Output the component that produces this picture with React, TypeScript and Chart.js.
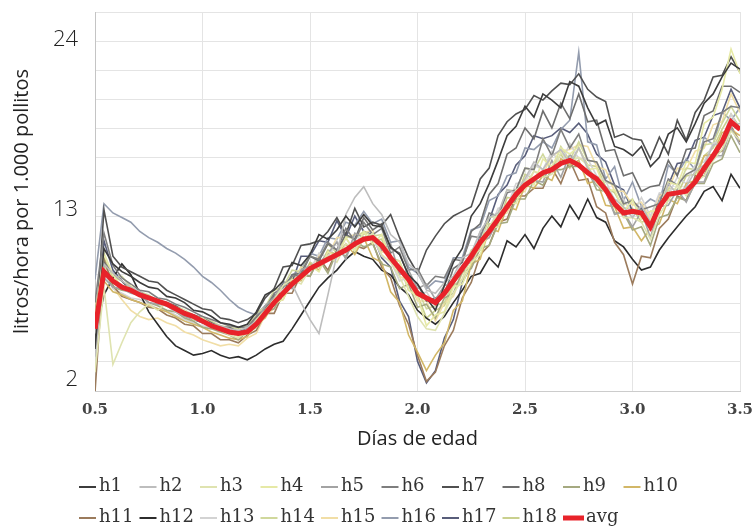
import React, { useEffect, useRef } from 'react';
import { Chart, registerables } from 'chart.js';

Chart.register(...registerables);

// Hours of age (x), shown on the axis as days
const HOURS = [12, 13, 14, 15, 16, 17, 18, 19, 20, 21, 22, 23, 24, 25, 26, 27, 28, 29, 30, 31, 32, 33, 34, 35, 36,
  37, 38, 39, 40, 41, 42, 43, 44, 45, 46, 47, 48, 49, 50, 51, 52, 53, 54, 55, 56, 57, 58, 59, 60, 61, 62, 63, 64,
  65, 66, 67, 68, 69, 70, 71, 72, 73, 74, 75, 76, 77, 78, 79, 80, 81, 82, 83, 84];
const X_TICK_LABELS = ['0.5', '1.0', '1.5', '2.0', '2.5', '3.0', '3.5'];
const Y_TICK_LABELS = [2, 13, 24];
const SERIES_NAMES = ['h1', 'h2', 'h3', 'h4', 'h5', 'h6', 'h7', 'h8', 'h9', 'h10', 'h11', 'h12', 'h13', 'h14', 'h15', 'h16', 'h17', 'h18'];
const SERIES_COLORS = ['#3c3c3c', '#bdbdbd', '#dfe3b0', '#e6e9a6', '#a3a3a3', '#7e7e7e', '#505050', '#6e6e6e', '#a5a980',
  '#d2b767', '#9b7b5c', '#2c2c2c', '#d3d3d3', '#d0d89c', '#f1dea6', '#939cae', '#585d7a', '#c9d08e'];
const AVG_COLOR = '#e8232a';

const h1 = [4.0, 10.5, 9.5, 9.0, 8.7, 8.3, 8.0, 7.9, 7.4, 7.3,
  7.0, 6.5, 6.4, 6.1, 5.7, 5.6, 5.4, 5.6, 6.4, 7.5,
  7.8, 8.4, 9.6, 9.4, 10.1, 11.4, 11.1, 11.7, 12.6, 11.9,
  12.7, 12.0, 11.9, 10.6, 10.1, 8.8, 8.2, 7.3, 6.5, 8.1,
  9.6, 10.5, 12.6, 13.4, 14.7, 16.2, 17.8, 18.4, 19.7, 19.0,
  20.5, 20.1, 19.6, 21.3, 21.0, 19.6, 18.5, 18.8, 17.1, 16.9,
  16.5, 17.1, 15.8, 16.4, 17.9, 18.3, 17.4, 18.6, 19.9, 20.5,
  21.6, 22.5, 22.1];
const h2 = [3.5, 9.5, 8.9, 8.4, 8.0, 7.7, 7.3, 7.0, 6.8, 6.4,
  6.2, 6.0, 5.7, 5.6, 5.5, 5.3, 5.2, 5.4, 5.8, 6.3,
  6.9, 7.6, 8.2, 7.0, 5.9, 5.0, 7.5, 10.1, 12.7, 13.8,
  14.5, 13.4, 12.7, 11.4, 10.9, 9.5, 9.0, 7.8, 7.6, 8.3,
  8.7, 9.9, 10.2, 11.6, 12.5, 12.8, 14.3, 14.1, 15.0, 16.1,
  15.6, 16.5, 16.9, 16.0, 17.0, 15.7, 15.0, 14.5, 13.7, 13.2,
  12.5, 13.3, 12.2, 12.9, 14.7, 14.0, 14.5, 15.5, 15.9, 17.2,
  17.3, 18.4, 18.6];
const h3 = [2.5, 8.0, 3.0, 4.4, 5.7, 6.4, 6.9, 6.5, 7.0, 6.7,
  6.5, 6.1, 6.0, 5.6, 5.2, 4.9, 4.7, 5.2, 5.9, 6.5,
  7.2, 8.1, 8.5, 8.2, 9.2, 9.3, 10.0, 9.6, 10.8, 10.5,
  11.0, 11.5, 10.1, 9.6, 8.7, 7.4, 6.1, 5.3, 5.2, 6.3,
  7.6, 8.5, 10.0, 10.4, 11.9, 12.8, 13.2, 14.3, 14.6, 15.5,
  15.1, 15.3, 16.7, 16.1, 16.4, 15.9, 14.7, 14.1, 13.4, 12.5,
  12.5, 12.2, 11.1, 12.7, 13.6, 14.6, 13.9, 14.8, 15.2, 16.2,
  16.9, 18.1, 17.5];
const h4 = [6.0, 10.2, 8.8, 8.0, 8.1, 7.5, 7.3, 7.2, 6.9, 6.5,
  6.4, 5.9, 5.8, 5.6, 5.3, 5.1, 4.8, 5.0, 5.4, 6.3,
  6.9, 7.2, 8.3, 8.5, 9.4, 9.0, 10.3, 9.9, 11.2, 10.3,
  11.6, 10.8, 11.4, 9.6, 9.7, 7.8, 7.4, 5.5, 6.2, 6.4,
  8.0, 8.2, 9.6, 10.1, 11.8, 11.9, 13.5, 13.4, 15.0, 14.6,
  16.3, 15.8, 17.0, 16.6, 17.1, 15.6, 15.7, 14.2, 14.3, 12.9,
  13.6, 12.4, 12.9, 13.0, 14.8, 14.6, 16.1, 16.0, 18.6, 19.0,
  20.8, 23.4, 21.8];
const h5 = [5.0, 8.6, 8.0, 7.9, 7.6, 7.5, 7.0, 6.9, 6.8, 6.4,
  6.1, 5.9, 5.8, 5.4, 5.4, 5.2, 5.0, 5.3, 5.7, 6.8,
  7.3, 8.4, 7.9, 9.1, 9.4, 9.5, 10.2, 10.9, 9.8, 11.5,
  11.2, 11.4, 10.4, 10.8, 8.8, 9.1, 7.9, 8.2, 7.2, 8.1,
  8.2, 9.4, 9.6, 10.9, 11.2, 12.4, 13.2, 14.3, 14.6, 14.9,
  14.8, 16.2, 15.1, 16.6, 15.8, 15.4, 14.6, 14.2, 12.7, 12.9,
  11.9, 12.9, 11.2, 13.2, 13.3, 14.3, 13.5, 14.8, 14.8, 16.5,
  16.5, 18.3, 17.2];
const h6 = [7.0, 11.5, 9.4, 8.6, 8.2, 7.8, 7.7, 7.3, 7.2, 6.9,
  6.7, 6.4, 6.1, 5.9, 5.7, 5.5, 5.4, 5.4, 6.1, 6.6,
  7.6, 8.0, 8.7, 8.8, 10.0, 9.8, 10.9, 10.4, 11.8, 11.0,
  12.2, 11.4, 11.8, 10.2, 10.6, 9.1, 9.2, 8.1, 8.7, 8.6,
  9.8, 9.7, 11.3, 11.2, 12.8, 12.6, 14.1, 14.3, 15.7, 15.6,
  17.6, 16.5, 18.2, 17.0, 17.9, 16.2, 16.1, 14.9, 14.6, 13.4,
  13.6, 13.0, 13.2, 13.4, 15.0, 14.6, 15.3, 15.6, 17.4, 17.6,
  19.3, 19.7, 19.6];
const h7 = [4.5, 13.0, 10.0, 9.3, 9.0, 8.7, 8.4, 8.3, 7.8, 7.5,
  7.2, 6.9, 6.6, 6.5, 6.0, 5.9, 5.7, 5.9, 6.3, 7.3,
  7.9, 9.3, 9.4, 10.7, 10.8, 11.0, 11.6, 12.5, 11.4, 13.1,
  11.9, 12.2, 12.0, 12.7, 11.2, 9.9, 8.9, 10.4, 11.3, 12.1,
  12.6, 12.9, 13.2, 15.0, 15.7, 17.8, 18.7, 19.2, 19.5, 20.4,
  20.1, 20.7, 21.2, 21.1, 21.8, 20.8, 20.3, 20.0, 17.7, 17.9,
  17.6, 17.5, 16.3, 17.7, 16.6, 18.8, 17.5, 19.3, 20.1, 21.6,
  21.7, 22.9, 21.9];
const h8 = [5.8, 9.6, 8.9, 8.4, 7.8, 7.7, 7.3, 7.1, 7.0, 6.8,
  6.4, 6.2, 6.0, 5.7, 5.4, 5.4, 5.1, 5.3, 6.0, 6.5,
  7.5, 7.6, 8.8, 8.9, 10.0, 9.7, 10.8, 10.4, 11.4, 11.1,
  12.5, 11.7, 12.1, 10.5, 10.2, 8.7, 8.2, 7.1, 7.3, 7.5,
  9.2, 9.6, 11.6, 12.1, 14.0, 14.7, 16.6, 17.0, 18.3, 17.6,
  19.4, 18.3, 19.9, 18.9, 20.5, 18.7, 18.8, 16.8, 16.9, 15.2,
  15.4, 14.2, 14.5, 14.6, 16.2, 15.2, 16.9, 17.0, 19.1, 19.4,
  21.0, 21.0, 20.6];
const h9 = [6.5, 9.2, 8.0, 7.8, 7.7, 7.5, 7.0, 6.8, 6.5, 6.4,
  6.0, 5.8, 5.4, 5.3, 5.1, 4.9, 4.6, 5.1, 5.4, 6.4,
  6.6, 7.7, 8.0, 8.9, 8.7, 9.8, 8.9, 10.3, 10.0, 11.0,
  10.6, 10.8, 9.5, 9.3, 7.9, 8.2, 6.7, 6.9, 6.0, 7.3,
  7.6, 9.0, 9.2, 10.5, 10.7, 12.1, 12.2, 13.7, 13.7, 14.9,
  14.6, 15.6, 15.6, 15.8, 15.8, 15.6, 14.3, 14.2, 12.8, 12.8,
  11.7, 11.9, 10.7, 12.5, 12.7, 13.8, 13.6, 14.7, 14.7, 16.0,
  16.3, 17.8, 16.7];
const h10 = [5.5, 8.4, 7.7, 7.5, 7.2, 7.0, 6.8, 6.6, 6.4, 6.1,
  5.8, 5.6, 5.4, 5.1, 4.9, 4.7, 4.6, 4.8, 5.6, 6.0,
  7.0, 7.2, 8.5, 8.4, 9.5, 9.1, 10.3, 10.0, 10.8, 10.1,
  11.2, 9.9, 9.6, 7.7, 7.0, 4.9, 3.8, 2.6, 3.6, 4.4,
  6.5, 7.1, 9.5, 9.8, 11.8, 11.6, 13.2, 13.0, 14.6, 14.4,
  15.2, 14.9, 16.3, 15.9, 16.2, 14.7, 14.9, 13.3, 13.2, 11.8,
  11.9, 11.0, 11.8, 12.1, 13.7, 13.4, 14.7, 14.9, 16.5, 16.6,
  18.0, 18.2, 17.8];
const h11 = [1.2, 9.8, 8.1, 7.4, 7.2, 7.0, 6.7, 6.6, 6.2, 6.0,
  5.6, 5.5, 5.0, 5.0, 4.6, 4.6, 4.4, 4.9, 5.2, 6.3,
  6.3, 7.6, 7.6, 8.8, 8.7, 9.9, 9.1, 10.4, 10.3, 10.7,
  10.5, 10.9, 9.3, 8.6, 6.8, 5.6, 3.6, 1.9, 2.5, 4.2,
  5.2, 7.3, 8.3, 10.1, 10.7, 12.2, 12.4, 13.9, 13.9, 14.4,
  14.4, 15.7, 14.7, 16.2, 14.9, 15.0, 13.2, 12.8, 10.9, 10.1,
  8.2, 10.0, 9.9, 11.8, 12.4, 13.9, 13.6, 15.2, 15.2, 16.6,
  16.8, 18.4, 17.4];
const h12 = [4.8, 7.5, 8.6, 9.5, 8.8, 7.6, 6.4, 5.6, 4.8, 4.2,
  3.9, 3.6, 3.7, 3.9, 3.6, 3.4, 3.5, 3.3, 3.6, 4.0,
  4.3, 4.5, 5.3, 6.2, 7.1, 8.0, 8.6, 9.1, 9.8, 10.3,
  10.0, 9.8, 9.1, 8.8, 8.0, 7.5, 6.5, 6.0, 5.6, 6.1,
  7.0, 7.8, 8.7, 8.9, 9.9, 9.3, 11.0, 10.6, 11.4, 10.5,
  11.8, 12.6, 11.9, 13.3, 12.4, 13.7, 12.5, 12.2, 11.0, 10.6,
  9.8, 9.1, 9.3, 10.4, 11.2, 11.9, 12.6, 13.2, 14.2, 14.5,
  13.6, 15.3, 14.4];
const h13 = [3.0, 8.9, 7.9, 7.6, 7.3, 7.2, 6.9, 6.6, 6.5, 6.2,
  5.9, 5.7, 5.5, 5.4, 5.2, 5.0, 5.0, 5.5, 5.7, 6.6,
  6.8, 8.0, 8.1, 9.1, 9.1, 10.2, 9.9, 11.0, 10.2, 11.3,
  11.0, 11.2, 10.0, 9.7, 8.4, 8.6, 7.4, 7.7, 6.8, 8.1,
  8.3, 9.8, 9.9, 11.6, 11.7, 13.1, 13.2, 14.7, 14.8, 15.9,
  15.6, 16.8, 15.9, 17.3, 16.3, 16.3, 15.2, 14.9, 13.6, 13.7,
  12.7, 13.8, 12.6, 14.1, 14.0, 15.1, 14.7, 15.9, 16.1, 17.3,
  17.5, 19.2, 18.1];
const h14 = [4.2, 9.4, 8.6, 8.7, 8.0, 7.7, 7.5, 7.1, 6.9, 6.8,
  6.5, 6.2, 6.0, 5.8, 5.5, 5.4, 5.3, 5.5, 6.3, 6.7,
  7.8, 8.0, 9.1, 9.0, 10.0, 9.8, 10.8, 10.2, 11.3, 11.1,
  11.6, 11.3, 11.4, 9.9, 9.7, 8.2, 7.8, 6.6, 6.8, 7.0,
  8.3, 8.9, 10.4, 10.8, 12.5, 12.6, 14.3, 14.2, 15.7, 15.6,
  16.6, 15.5, 17.1, 16.2, 17.4, 16.2, 16.1, 14.8, 14.6, 13.3,
  13.7, 12.6, 12.9, 12.9, 14.4, 14.3, 15.7, 15.6, 17.2, 17.3,
  18.6, 19.7, 18.7];
const h15 = [6.8, 9.1, 8.0, 7.2, 6.5, 6.1, 5.9, 6.0, 5.7, 5.5,
  5.1, 4.9, 4.6, 4.4, 4.2, 4.3, 4.2, 4.7, 5.0, 6.2,
  6.6, 8.0, 8.2, 9.3, 9.1, 10.1, 10.0, 11.2, 11.2, 11.4,
  11.5, 11.7, 10.3, 10.1, 8.7, 8.4, 7.1, 7.1, 5.8, 7.0,
  7.4, 8.9, 9.4, 10.8, 11.2, 12.6, 12.8, 14.0, 14.2, 15.5,
  15.3, 16.5, 16.8, 16.9, 17.2, 17.1, 15.8, 15.6, 14.2, 14.2,
  13.3, 13.5, 12.4, 13.9, 14.3, 15.7, 15.6, 16.8, 17.0, 18.5,
  18.7, 20.5, 19.3];
const h16 = [8.5, 13.4, 12.8, 12.5, 12.2, 11.6, 11.2, 10.9, 10.5, 10.2,
  9.8, 9.3, 8.7, 8.3, 7.8, 7.2, 6.7, 6.4, 6.2, 6.8,
  7.4, 7.9, 8.8, 9.1, 10.2, 10.0, 11.2, 11.1, 12.2, 12.0,
  12.9, 12.1, 12.4, 10.9, 11.0, 9.3, 8.9, 7.9, 8.4, 8.3,
  9.9, 9.9, 11.7, 11.9, 13.6, 13.9, 15.2, 15.4, 17.0, 16.9,
  17.4, 17.0, 18.2, 18.8, 23.2, 17.4, 17.2, 15.0, 15.8, 13.6,
  14.8, 13.2, 13.7, 13.4, 15.9, 15.3, 16.3, 15.6, 17.7, 17.2,
  19.3, 18.8, 19.6];
const h17 = [3.8, 11.0, 9.1, 8.4, 7.8, 7.6, 7.3, 7.0, 6.8, 6.5,
  6.2, 5.9, 5.7, 5.5, 5.2, 5.0, 4.9, 5.2, 5.4, 6.7,
  6.9, 8.3, 8.3, 10.0, 10.0, 11.0, 10.9, 12.3, 11.2, 12.6,
  11.6, 11.4, 9.9, 9.3, 7.1, 6.1, 3.2, 1.8, 2.6, 4.7,
  5.9, 8.3, 9.4, 11.5, 12.3, 14.0, 14.6, 15.9, 16.5, 17.8,
  17.6, 17.8, 18.3, 18.0, 18.6, 17.9, 16.6, 16.1, 14.6, 14.3,
  12.9, 13.1, 11.9, 13.9, 14.6, 16.0, 16.1, 17.5, 17.7, 19.1,
  19.3, 20.8, 19.6];
const h18 = [5.6, 9.9, 8.7, 8.4, 7.9, 7.6, 7.4, 7.1, 7.0, 6.7,
  6.3, 6.1, 5.8, 5.7, 5.3, 5.2, 5.0, 5.3, 5.9, 6.5,
  7.2, 7.6, 8.6, 8.5, 9.6, 9.3, 10.4, 10.1, 11.2, 10.3,
  11.5, 11.0, 11.1, 9.6, 9.4, 7.8, 7.5, 6.0, 6.5, 6.8,
  8.1, 8.5, 10.0, 10.4, 12.1, 12.0, 13.8, 13.7, 15.3, 15.0,
  15.2, 15.6, 16.6, 15.7, 17.0, 15.9, 15.8, 14.5, 14.1, 13.1,
  13.1, 12.2, 12.4, 12.9, 14.3, 14.0, 15.2, 15.3, 16.5, 17.0,
  18.2, 19.2, 18.3];
const avg = [5.3, 9.0, 8.4, 8.0, 7.8, 7.5, 7.3, 7.1, 6.9, 6.6,
  6.3, 6.1, 5.8, 5.5, 5.3, 5.1, 5.0, 5.1, 5.6, 6.3,
  7.0, 7.6, 8.2, 8.7, 9.2, 9.5, 9.8, 10.1, 10.4, 10.8,
  11.1, 11.2, 10.7, 9.9, 9.2, 8.5, 7.6, 7.3, 7.0, 7.6,
  8.4, 9.2, 10.0, 10.9, 11.6, 12.4, 13.2, 14.0, 14.6, 15.0,
  15.4, 15.6, 16.0, 16.2, 15.9, 15.4, 15.0, 14.3, 13.4, 12.8,
  12.9, 12.8, 11.9, 13.2, 14.0, 14.1, 14.2, 14.8, 15.7, 16.5,
  17.4, 18.7, 18.2];

const SERIES = [h1, h2, h3, h4, h5, h6, h7, h8, h9, h10, h11, h12, h13, h14, h15, h16, h17, h18];

const Y_MIN = 1.28;
const Y_MAX = 25.8;
const GRID_DIVS = 13;

const legendPlugin = {
  id: 'gridLegend',
  afterDraw(chart: any) {
    const ctx = chart.ctx;
    ctx.save();
    ctx.font = '18px "DejaVu Serif", serif';
    ctx.textBaseline = 'middle';
    ctx.textAlign = 'left';
    chart.data.datasets.forEach((ds: any, i: number) => {
      const row = i < 10 ? 0 : 1;
      const col = i < 10 ? i : i - 10;
      const x = 79 + col * 60.5;
      const y = row === 0 ? 487 : 518;
      const isAvg = ds.label === 'avg';
      ctx.strokeStyle = ds.borderColor;
      ctx.lineWidth = isAvg ? 5 : 2;
      ctx.beginPath();
      ctx.moveTo(x, y);
      ctx.lineTo(x + (isAvg ? 21 : 17), y);
      ctx.stroke();
      ctx.fillStyle = '#333';
      ctx.fillText(ds.label, x + (isAvg ? 23 : 20), y - 1);
    });
    ctx.restore();
  },
};

export default function App() {
  const ref = useRef<HTMLCanvasElement>(null);
  useEffect(() => {
    if (!ref.current) return;
    const datasets: any[] = SERIES.map((s, i) => ({
      label: SERIES_NAMES[i],
      data: s.map((v, j) => ({ x: HOURS[j], y: v })),
      borderColor: SERIES_COLORS[i],
      backgroundColor: SERIES_COLORS[i],
      borderWidth: 1.6,
      pointRadius: 0,
      tension: 0,
      order: 1,
    }));
    datasets.push({
      label: 'avg',
      data: avg.map((v, j) => ({ x: HOURS[j], y: v })),
      borderColor: AVG_COLOR,
      backgroundColor: AVG_COLOR,
      borderWidth: 5,
      pointRadius: 0,
      tension: 0,
      order: 0,
    });
    const chart = new Chart(ref.current, {
      type: 'line',
      data: { datasets },
      plugins: [legendPlugin],
      options: {
        animation: false,
        responsive: false,
        devicePixelRatio: 1,
        layout: { padding: { top: 12, right: 12, bottom: 81, left: 0 } },
        plugins: { legend: { display: false }, tooltip: { enabled: false } },
        scales: {
          x: {
            type: 'linear',
            min: HOURS[0],
            max: HOURS[HOURS.length - 1],
            afterBuildTicks: (s: any) => {
              s.ticks = X_TICK_LABELS.map((_, k) => ({ value: HOURS[0] + k * 12 }));
            },
            ticks: {
              autoSkip: false,
              maxRotation: 0,
              padding: 10,
              color: '#444',
              font: { family: '"DejaVu Serif", serif', size: 15, weight: 'bold' },
              callback: (v: any, idx: number) => X_TICK_LABELS[idx] ?? '',
            },
            grid: { color: '#e4e4e4', lineWidth: 1, drawTicks: false },
            border: { color: '#cccccc' },
            title: {
              display: true,
              text: 'Días de edad',
              color: '#222',
              font: { family: '"Open Sans", sans-serif', size: 20 },
              padding: { top: 0, bottom: 0 },
            },
            afterFit: (s: any) => {
              s.height = 60;
              s.paddingLeft = 0;
              s.paddingRight = 0;
            },
          },
          y: {
            type: 'linear',
            min: Y_MIN,
            max: Y_MAX,
            afterBuildTicks: (s: any) => {
              const t: any[] = [];
              for (let k = 0; k <= GRID_DIVS; k++) t.push({ value: Y_MIN + (k * (Y_MAX - Y_MIN)) / GRID_DIVS });
              Y_TICK_LABELS.forEach((v) => t.push({ value: v }));
              t.sort((a, b) => a.value - b.value);
              s.ticks = t;
            },
            ticks: {
              autoSkip: false,
              padding: 17,
              color: '#222',
              font: { family: '"Open Sans", sans-serif', size: 22, weight: '300' },
              callback: (v: any) => (Y_TICK_LABELS.includes(v) ? String(v) : ''),
            },
            grid: {
              drawTicks: false,
              lineWidth: 1,
              color: (c: any) => (c.tick && Y_TICK_LABELS.includes(c.tick.value) ? 'rgba(0,0,0,0)' : '#e4e4e4'),
            },
            border: { color: '#c4c4c4' },
            title: {
              display: true,
              text: 'litros/hora por 1.000 pollitos',
              color: '#222',
              font: { family: '"Open Sans", sans-serif', size: 20 },
              padding: { top: 10, bottom: 0 },
            },
            afterFit: (s: any) => {
              s.width = 95;
              s.paddingTop = 0;
              s.paddingBottom = 0;
            },
          },
        },
      } as any,
    });
    return () => chart.destroy();
  }, []);
  return (
    <div style={{ position: 'fixed', left: 0, top: 0, width: 752, height: 532, background: '#fff' }}>
      <canvas ref={ref} width={752} height={532} style={{ width: 752, height: 532, display: 'block' }} />
    </div>
  );
}
